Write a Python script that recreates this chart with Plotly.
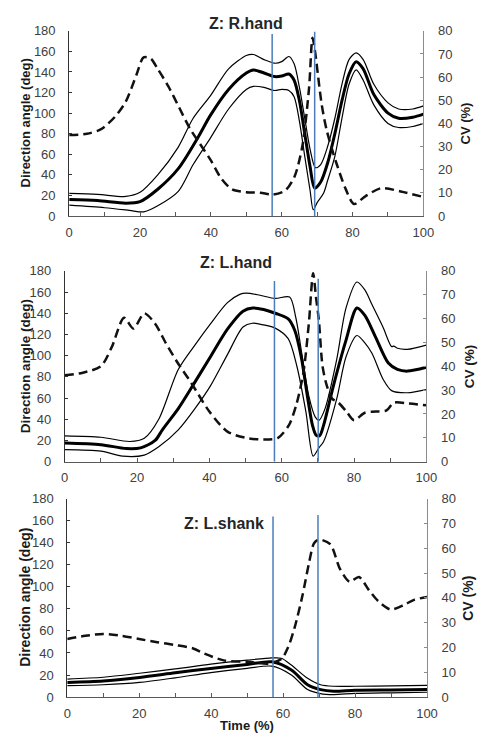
import plotly.graph_objects as go

# ---------------- DATA ----------------
time_ticks = [0, 20, 40, 60, 80, 100]

# Panel 1: Z: R.hand
rh_mean_x = [0, 8, 16, 20, 25, 30.8, 36.3, 39.9, 45, 50, 52, 55, 58, 60, 62, 63.5, 65, 66.5, 68, 69.3, 71, 73, 75, 77, 79, 81, 83, 86, 90, 93, 97, 100]
rh_mean = [16, 15, 12.5, 14, 26, 46, 76, 98, 123, 139, 142, 139, 135.5, 136, 138, 132, 112, 80, 48, 27, 33, 52, 80, 112, 138, 150, 143, 118, 100, 95, 96, 99]
rh_upper_x = [0, 8, 16, 20, 25, 30.8, 35, 39.9, 45, 50, 52, 55, 58, 60, 62, 63.5, 65, 66.5, 68, 69.5, 71, 73, 75, 77, 79, 81, 83, 86, 90, 93, 97, 100]
rh_upper = [22, 21, 19, 23, 40, 67, 95, 117, 143, 156, 157, 152, 148.5, 150, 155, 148, 125, 95, 65, 47, 50, 68, 95, 128, 152, 158.5, 152, 128, 110, 104, 104, 107]
rh_lower_x = [0, 10, 17, 21, 25, 30.8, 35, 39.9, 45, 50, 52, 55, 58, 60, 62, 63.5, 65, 66.5, 68, 68.9, 70, 71.8, 73, 75, 77, 79, 81, 83, 86, 90, 93, 97, 100]
rh_lower = [10.5, 8, 5.5, 4, 10, 24, 50, 76, 104, 123, 126, 125, 122, 123, 122, 116, 92, 58, 25, 6, 13, 22, 35, 58, 95, 128, 142, 132, 108, 90, 86, 87, 90]
rh_cv_x = [0, 5, 9, 13, 16, 19, 21, 23, 25, 28, 31, 34, 37, 40, 43, 46, 50, 54, 57.5, 61, 63.6, 65.8, 67.7, 68.7, 69.5, 70.3, 71.3, 72.7, 75.4, 78.1, 80.4, 83.6, 88, 93.6, 100]
rh_cv = [35, 35.5, 37.5, 43, 49.5, 61, 68.5, 68, 63.5, 56, 47, 38, 31, 24, 16, 11.5, 10.3, 10, 9.3, 11, 17, 30, 55, 77, 70, 60, 48, 37, 23, 11.5, 5.2, 8.5, 12, 10.6, 8.2]
rh_events = [57.3, 69.3]
rh_event_tops = [177, 179]

# Panel 2: Z: L.hand
lh_mean_x = [0, 10, 17, 21, 25, 27, 31.4, 36, 40.3, 45, 49.3, 52, 55, 58.2, 61.8, 63.6, 65.4, 67.1, 68.5, 69.5, 70.5, 71.6, 74.3, 77.8, 80.8, 83, 85.9, 89.5, 92, 94.8, 100]
lh_mean = [17.6, 16, 12.3, 13, 20, 30, 50, 75, 99, 125, 142, 145, 143.5, 140, 134.7, 124, 99, 62, 34.5, 25, 24.5, 34.5, 71.5, 114.6, 145, 138, 118, 93, 87, 85.4, 89]
lh_upper_x = [0, 10, 18, 22, 26, 31.4, 36, 40.3, 45, 48.4, 50.2, 54, 58.2, 62.2, 63.9, 65.7, 67.5, 69.3, 70.3, 72, 75.2, 77.8, 80.8, 83, 85, 88, 90.4, 91, 92, 94.8, 100]
lh_upper = [24.3, 23, 19, 22, 40, 87, 110, 130, 150, 157.8, 159, 157, 154, 155.3, 136, 99, 62, 42, 39, 50, 96, 145, 169.5, 162, 148, 127, 108.5, 109, 107, 106, 110]
lh_lower_x = [0, 10, 16, 22, 26, 31.4, 36, 40.3, 45, 49.3, 51.9, 55, 58.2, 61.8, 64.2, 66.7, 68.7, 70.3, 71.6, 75.2, 77.8, 80.8, 83, 85, 88, 90.4, 94.8, 100]
lh_lower = [11.4, 9.9, 5.2, 6.2, 14, 30, 50, 71.5, 101, 127, 130.6, 129, 126, 116, 90, 47, 5.2, 13, 19, 59, 99, 119, 112, 102, 78, 67, 65, 68]
lh_cv_x = [0, 5, 10, 13, 16.4, 19, 22, 25, 28, 31, 35, 40, 45, 50, 55, 59, 62, 64, 66, 67.5, 68.7, 69.5, 70.3, 71.3, 72.5, 74, 75.5, 78, 80, 83, 86, 89, 91, 95, 100]
lh_cv = [36.2, 37.3, 40, 48, 60.3, 55.8, 62.2, 57.8, 49.6, 42, 33, 21, 12.6, 10, 9.3, 10, 15.3, 23.6, 37.3, 57.8, 79, 68.8, 59, 40, 31.8, 26.3, 25, 20.8, 17.4, 20.5, 21, 21.5, 24.7, 24.4, 23.6]
lh_events = [58.0, 70.1]
lh_event_tops = [170.5, 172.6]

# Panel 3: Z: L.shank
ls_mean_x = [0, 10, 20.1, 30, 39.9, 50, 56.9, 62.3, 66.8, 70.4, 74, 80, 90, 100]
ls_mean = [13.3, 14.5, 17.8, 22, 26, 29.5, 32, 24.5, 11.2, 6.8, 5.3, 6.2, 6.5, 6.8]
ls_upper_x = [0, 10, 20.1, 30, 39.9, 50, 56.9, 59.5, 62.3, 66.8, 70.4, 74, 80, 90, 100]
ls_upper = [16.3, 18, 21.6, 25.5, 29.9, 33.5, 35.5, 35.2, 29, 17, 11.2, 9.8, 9.8, 10.2, 10.7]
ls_lower_x = [0, 10, 20.1, 30, 39.9, 50, 56.9, 62.3, 66.8, 70.4, 74, 80, 90, 100]
ls_lower = [10.4, 11.2, 13.3, 17.5, 22.2, 26, 28, 20, 6.8, 3.2, 2.3, 3.3, 3.9, 4.4]
ls_cv_x = [0, 5, 10, 15, 20, 25, 30, 35, 38.1, 43.5, 50.6, 56, 59.6, 61.4, 63.2, 65.4, 67.2, 68.6, 69.9, 73.1, 75.8, 78.5, 81.1, 83.8, 86.5, 89.9, 93.7, 96.4, 100]
ls_cv = [23.4, 24.7, 25.4, 24.7, 23.4, 22.1, 21, 19.6, 17.5, 14.8, 14.2, 13.5, 15.5, 20.1, 28, 41, 54, 62, 63.5, 61.6, 51.7, 46.5, 48.4, 43.2, 38.6, 35.3, 37.2, 39.2, 40.3]
ls_events = [57.2, 69.7]
ls_event_tops = [163.7, 165]

panel_titles = ["Z: R.hand", "Z: L.hand", "Z: L.shank"]
left_title = "Direction angle (deg)"
right_title = "CV (%)"
x_title = "Time (%)"

# ---------------- LAYOUT GEOMETRY (pixels) ----------------
W, H = 478, 743
# (x_left, x_right, y_top, y_bottom)
panels_px = [
    (67.3, 433.0, 24.3, 213.3),
    (62.7, 436.0, 269.3, 464.0),
    (65.3, 436.7, 501.7, 704.3),
]
title_pos = [(250, 17), (240, 260.5), (227, 527)]
ylab_font = [13, 13.5, 14]
cv_label_x = [476, 480, 479]

FONT = "Liberation Sans, Arial, sans-serif"
TICKC = "#404040"
BLUE = "#4a7ebb"

fig = go.Figure()

data = [
    (rh_mean_x, rh_mean, rh_upper_x, rh_upper, rh_lower_x, rh_lower, rh_cv_x, rh_cv, rh_events, rh_event_tops),
    (lh_mean_x, lh_mean, lh_upper_x, lh_upper, lh_lower_x, lh_lower, lh_cv_x, lh_cv, lh_events, lh_event_tops),
    (ls_mean_x, ls_mean, ls_upper_x, ls_upper, ls_lower_x, ls_lower, ls_cv_x, ls_cv, ls_events, ls_event_tops),
]

layout = dict(
    width=W, height=H, margin=dict(l=0, r=0, t=0, b=0),
    paper_bgcolor="white", plot_bgcolor="white", showlegend=False,
    font=dict(family=FONT, size=13, color=TICKC),
)
shapes = []
annotations = []

for i, (mx, m, ux, u, lx, l, cx, c, ev, evt) in enumerate(data):
    xl, xr, yt, yb = panels_px[i]
    xa = "xaxis" if i == 0 else f"xaxis{i+1}"
    xref = "x" if i == 0 else f"x{i+1}"
    yL = 2 * i + 1
    yR = 2 * i + 2
    yaL = "yaxis" if yL == 1 else f"yaxis{yL}"
    yaR = f"yaxis{yR}"
    yrefL = "y" if yL == 1 else f"y{yL}"
    yrefR = f"y{yR}"
    xdom = [xl / W, xr / W]
    ydom = [1 - yb / H, 1 - yt / H]

    layout[xa] = dict(
        domain=xdom, range=[0, 100], anchor=yrefL, tickvals=time_ticks,
        ticks="inside", ticklen=4, tickcolor="#595959", showline=True,
        linecolor="#595959", linewidth=1, showgrid=False, zeroline=False,
        ticklabelstandoff=4, tickfont=dict(size=13, color=TICKC),
        minor=dict(dtick=10, ticks="inside", ticklen=4, tickcolor="#595959", showgrid=False),
    )
    layout[yaL] = dict(
        domain=ydom, range=[0, 180], anchor=xref, dtick=20,
        ticks="inside", ticklen=3, tickcolor="#333333", showline=True,
        linecolor="#333333", linewidth=1, showgrid=False, zeroline=False,
        ticklabelstandoff=10, tickfont=dict(size=13, color=TICKC),
    )
    layout[yaR] = dict(
        domain=ydom, range=[0, 80], anchor=xref, overlaying=yrefL, side="right",
        dtick=10, ticks="inside", ticklen=3, tickcolor="#8c8c8c", showline=True,
        linecolor="#8c8c8c", linewidth=1, showgrid=False, zeroline=False,
        ticklabelstandoff=11, tickfont=dict(size=13, color=TICKC),
    )

    # thin SD lines
    for xs, ys in ((ux, u), (lx, l)):
        fig.add_trace(go.Scatter(x=xs, y=ys, mode="lines", xaxis=xref, yaxis=yrefL,
                                 line=dict(color="black", width=1.2, shape="spline", smoothing=0.8),
                                 hoverinfo="skip"))
    # mean
    fig.add_trace(go.Scatter(x=mx, y=m, mode="lines", xaxis=xref, yaxis=yrefL,
                             line=dict(color="black", width=3, shape="spline", smoothing=0.8),
                             hoverinfo="skip"))
    # CV dashed
    fig.add_trace(go.Scatter(x=cx, y=c, mode="lines", xaxis=xref, yaxis=yrefR,
                             line=dict(color="#111111", width=2.5, dash="9px,5px", shape="spline", smoothing=0.8),
                             hoverinfo="skip"))
    # event lines
    for ex, et in zip(ev, evt):
        shapes.append(dict(type="line", xref=xref, yref=yrefL, x0=ex, x1=ex, y0=0, y1=et,
                           line=dict(color=BLUE, width=1.5), layer="above"))

    # panel title
    tx, ty = title_pos[i]
    annotations.append(dict(text=f"<b>{panel_titles[i]}</b>", x=tx / W, y=1 - ty / H,
                            xref="paper", yref="paper", xanchor="center", yanchor="middle",
                            showarrow=False, font=dict(family=FONT, size=16, color="#262626")))
    # left y title
    annotations.append(dict(text=f"<b>{left_title}</b>", x=21.7 / W, y=1 - (yt + yb) / 2 / H,
                            xref="paper", yref="paper", xanchor="center", yanchor="middle",
                            textangle=-90, showarrow=False,
                            font=dict(family=FONT, size=ylab_font[i], color="#1a1a1a")))
    # right y title
    annotations.append(dict(text=f"<b>{right_title}</b>", x=cv_label_x[i] / W, y=1 - (yt + yb) / 2 / H,
                            xref="paper", yref="paper", xanchor="center", yanchor="middle",
                            textangle=-90, showarrow=False,
                            font=dict(family=FONT, size=ylab_font[i], color="#1a1a1a")))

# x-axis title (bottom panel)
annotations.append(dict(text=f"<b>{x_title}</b>", x=251 / W, y=1 - 733 / H,
                        xref="paper", yref="paper", xanchor="center", yanchor="middle",
                        showarrow=False, font=dict(family=FONT, size=13, color="#1a1a1a")))

layout["shapes"] = shapes
layout["annotations"] = annotations
fig.update_layout(**layout)
fig.write_html("out.html")
